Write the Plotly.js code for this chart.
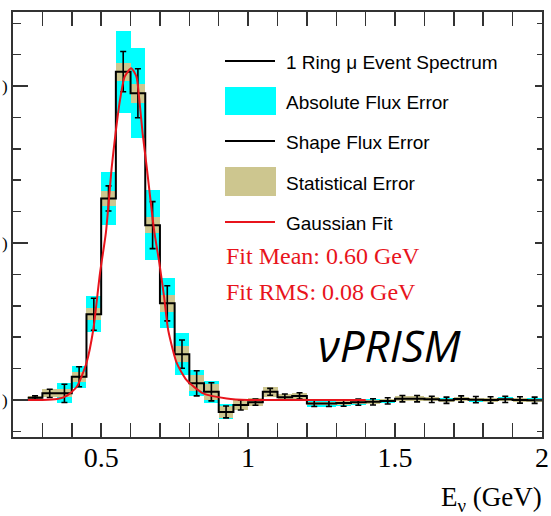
<!DOCTYPE html>
<html>
<head>
<meta charset="utf-8">
<script src="https://cdn.plot.ly/plotly-3.0.1.min.js"></script>
<style>html,body{margin:0;padding:0;background:#fff;} #plot{width:551px;height:516px;}</style>
</head>
<body>
<div id="plot"></div>
<script>
// ---- data ----
const binCenters = [0.275,0.325,0.375,0.425,0.475,0.525,0.575,0.625,0.675,0.725,0.775,0.825,0.875,0.925,0.975,
  1.025,1.075,1.125,1.175,1.225,1.275,1.325,1.375,1.425,1.475,1.525,1.575,1.625,1.675,1.725,1.775,1.825,1.875,1.925,1.975];
const binEdges = [0.25,0.30,0.35,0.40,0.45,0.50,0.55,0.60,0.65,0.70,0.75,0.80,0.85,0.90,0.95,1.00,
  1.05,1.10,1.15,1.20,1.25,1.30,1.35,1.40,1.45,1.50,1.55,1.60,1.65,1.70,1.75,1.80,1.85,1.90,1.95,2.00];
const binWidth = 0.05;
const counts = [0.07,0.21,0.21,0.74,2.73,6.42,10.46,9.77,5.57,3.08,1.46,0.53,0.26,-0.38,-0.16,-0.07,0.26,0.09,0.13,
  -0.11,-0.11,-0.10,-0.07,-0.06,-0.03,0.04,0.04,0.02,-0.01,0.03,0.01,0.00,0.02,0.00,-0.01];
const absFluxErr = [0.06,0.13,0.32,0.35,0.57,0.83,1.31,1.43,1.11,0.80,0.67,0.41,0.35,0.24,0.16,0.13,0.16,0.10,0.10,
  0.10,0.10,0.10,0.10,0.08,0.06,0.08,0.08,0.06,0.06,0.06,0.06,0.06,0.06,0.06,0.06];
const statErr = [0.05,0.13,0.13,0.16,0.19,0.25,0.29,0.30,0.25,0.27,0.25,0.25,0.25,0.19,0.16,0.13,0.16,0.10,0.10,
  0.06,0.06,0.06,0.06,0.06,0.05,0.08,0.08,0.06,0.05,0.05,0.05,0.05,0.05,0.05,0.05];
const shapeFluxErr = [0.06,0.13,0.29,0.32,0.51,0.40,0.64,0.78,0.75,0.56,0.45,0.40,0.29,0.19,0.16,0.10,0.11,0.10,0.10,
  0.10,0.10,0.10,0.10,0.10,0.10,0.10,0.10,0.10,0.10,0.10,0.10,0.10,0.10,0.10,0.10];
const fitX = [0.20,0.30,0.35,0.384,0.417,0.45,0.473,0.496,0.516,0.536,0.549,0.564,0.58,0.602,0.62,0.630,0.641,0.655,
  0.68,0.698,0.714,0.728,0.757,0.79,0.847,0.927,1.0,1.2,1.4];
const fitY = [0,0,0.03,0.14,0.42,1.18,2.23,4.04,5.32,7.42,8.50,9.55,10.3,10.57,10.3,9.55,8.50,7.42,
  5.41,4.36,3.29,2.23,1.18,0.64,0.21,0.05,0,0,0];
const xTickVals = [0.5,1,1.5,2];
const xTickText = ['0.5','1','1.5','2'];
const yTickVals = [0,5,10];
const yTickText = [')',')',')'];
const legendLabels = ['1 Ring \u03bc Event Spectrum','Absolute Flux Error','Shape Flux Error','Statistical Error','Gaussian Fit'];
const fitLabels = ['Fit Mean: 0.60 GeV','Fit RMS: 0.08 GeV'];

// ---- colours ----
const CYAN = '#00ffff', KHAKI = '#cdc68f', RED = '#e8141c', AX = '#333';

const stepY = counts.concat([counts[counts.length-1]]);

const traces = [
  {type:'bar', x:binCenters, y:absFluxErr.map(e=>2*e), base:counts.map((c,i)=>c-absFluxErr[i]),
   width:binWidth, marker:{color:CYAN, line:{width:0}}, showlegend:false, hoverinfo:'skip'},
  {type:'bar', x:binCenters, y:statErr.map(e=>2*e), base:counts.map((c,i)=>c-statErr[i]),
   width:binWidth, marker:{color:KHAKI, line:{width:0}}, showlegend:false, hoverinfo:'skip'},
  {type:'scatter', mode:'lines', x:binEdges, y:stepY, line:{shape:'hv', color:'#000', width:2}, showlegend:false},
  {type:'scatter', mode:'markers', x:binCenters, y:counts, marker:{size:2, color:'#000'},
   error_y:{type:'data', array:shapeFluxErr, visible:true, color:'#000', thickness:1.6, width:3}, showlegend:false},
  {type:'scatter', mode:'lines', x:fitX, y:fitY, line:{shape:'spline', smoothing:0.6, color:RED, width:2}, showlegend:false},
  {type:'scatter', mode:'lines', x:[0.2,2.0], y:[0,0], yaxis:'y2', line:{width:0}, hoverinfo:'skip', showlegend:false}
];

const L=13, R=542, T=12, B=437;
const px = p => (p-L)/(R-L);
const py = p => (B-p)/(B-T);

const shapes = [];
const annotations = [];
const legY = [61,101,141,182,222];
// legend symbols
shapes.push({type:'line', xref:'paper', yref:'paper', x0:px(225), x1:px(275), y0:py(legY[0]), y1:py(legY[0]), line:{color:'#000', width:2}});
shapes.push({type:'rect', xref:'paper', yref:'paper', x0:px(225), x1:px(276), y0:py(87), y1:py(115), fillcolor:CYAN, line:{width:0}});
shapes.push({type:'line', xref:'paper', yref:'paper', x0:px(225), x1:px(275), y0:py(legY[2]), y1:py(legY[2]), line:{color:'#000', width:2}});
shapes.push({type:'rect', xref:'paper', yref:'paper', x0:px(225), x1:px(276), y0:py(167), y1:py(196), fillcolor:KHAKI, line:{width:0}});
shapes.push({type:'line', xref:'paper', yref:'paper', x0:px(225), x1:px(275), y0:py(legY[4]), y1:py(legY[4]), line:{color:RED, width:2}});
legendLabels.forEach((t,i)=>{
  annotations.push({xref:'paper', yref:'paper', x:px(284), y:py(legY[i]+1), xanchor:'left', yanchor:'middle',
    text:t, showarrow:false, font:{family:'Liberation Sans, Arial, sans-serif', size:19, color:'#000'}});
});
annotations.push({xref:'paper', yref:'paper', x:px(224), y:py(256), xanchor:'left', yanchor:'middle',
  text:fitLabels[0], showarrow:false, font:{family:'Liberation Serif, Times New Roman, serif', size:24, color:RED}});
annotations.push({xref:'paper', yref:'paper', x:px(224), y:py(292), xanchor:'left', yanchor:'middle',
  text:fitLabels[1], showarrow:false, font:{family:'Liberation Serif, Times New Roman, serif', size:24, color:RED}});
annotations.push({xref:'paper', yref:'paper', x:px(316), y:py(345), xanchor:'left', yanchor:'middle',
  text:'<i>\u03bdPRISM</i>', showarrow:false, font:{family:'Open Sans, sans-serif', size:44, color:'#000'}});
annotations.push({xref:'paper', yref:'paper', x:px(544), y:py(480), xanchor:'right', yanchor:'top',
  text:'E<sub>\u03bd</sub> (GeV)', showarrow:false, font:{family:'Liberation Serif, Times New Roman, serif', size:27, color:'#000'}});

const layout = {
  width:551, height:516,
  margin:{l:L, r:551-R, t:T, b:516-B, pad:0},
  paper_bgcolor:'#fff', plot_bgcolor:'#fff',
  barmode:'overlay', bargap:0,
  showlegend:false,
  xaxis:{range:[0.2,2.0], tickmode:'array', tickvals:xTickVals, ticktext:xTickText,
    ticks:'inside', ticklen:14, tickwidth:1.5, tickcolor:AX,
    minor:{dtick:0.1, tick0:0, ticks:'inside', ticklen:6, tickwidth:1.5, tickcolor:AX, showgrid:false},
    showline:true, linecolor:AX, linewidth:2, mirror:'allticks', showgrid:false, zeroline:false,
    ticklabeloverflow:'allow', ticklabelstandoff:-6,
    tickfont:{family:'Liberation Serif, Times New Roman, serif', size:28, color:'#000'}},
  yaxis:{range:[-1.18,12.36], tickmode:'array', tickvals:yTickVals, ticktext:yTickText,
    ticks:'inside', ticklen:15, tickwidth:1.5, tickcolor:AX,
    minor:{dtick:1, tick0:0, ticks:'inside', ticklen:8, tickwidth:1.5, tickcolor:AX, showgrid:false},
    showline:true, linecolor:AX, linewidth:2, mirror:true, showgrid:false, zeroline:false,
    ticklabeloverflow:'allow', ticklabelstandoff:0,
    tickfont:{family:'Liberation Serif, Times New Roman, serif', size:17, color:'#000'}},
  yaxis2:{range:[-1.18,12.36], overlaying:'y', side:'right', tickmode:'array', tickvals:yTickVals,
    showticklabels:false, ticks:'inside', ticklen:7, tickwidth:1.5, tickcolor:AX,
    minor:{dtick:1, tick0:0, ticks:'inside', ticklen:5, tickwidth:1.5, tickcolor:AX, showgrid:false},
    showline:false, showgrid:false, zeroline:false},
  shapes:shapes, annotations:annotations
};

Plotly.newPlot('plot', traces, layout, {staticPlot:true, displayModeBar:false});
</script>
</body>
</html>
